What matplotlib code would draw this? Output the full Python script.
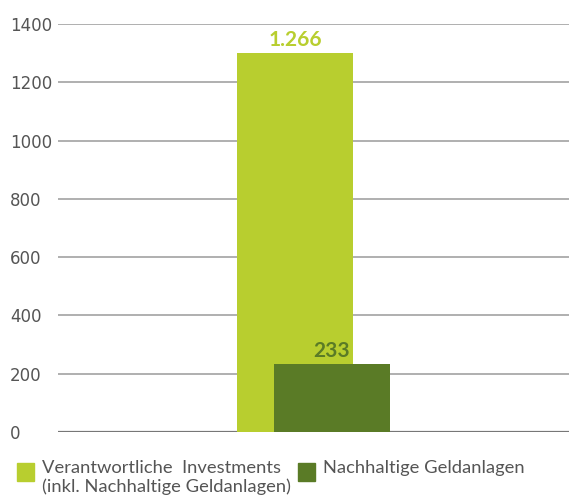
import matplotlib.pyplot as plt
from matplotlib.patches import Rectangle

series = ["Verantwortliche  Investments\n(inkl. Nachhaltige Geldanlagen)",
          "Nachhaltige Geldanlagen"]
values = [1300, 233]
value_labels = ["1.266", "233"]
colors = ["#b8ce2f", "#5a7b26"]
y_ticks = [0, 200, 400, 600, 800, 1000, 1200, 1400]


def main():
    fig = plt.figure(figsize=(5.69, 5.04), dpi=100)
    ax = fig.add_axes([58 / 569, 72 / 504, 511 / 569, 408 / 504])

    offsets = [-0.0724, 0.0724]
    for i in range(len(values)):
        bars = ax.bar(offsets[i], values[i], width=0.454, color=colors[i],
                      zorder=2 + i)
        ax.bar_label(bars, labels=[value_labels[i]], padding=2,
                     color=colors[i], fontsize=15, fontweight="bold",
                     family="Lato")

    ax.set_xlim(-1, 1)
    ax.set_ylim(0, 1400)
    ax.set_yticks(y_ticks)
    ax.set_yticklabels([str(t) for t in y_ticks], ha="left")
    ax.set_xticks([])
    ax.tick_params(axis="y", length=0, pad=34.5, labelsize=12,
                   labelcolor="#555555")
    for y in y_ticks:
        ax.axhline(y, color="#777777" if y == 0 else "#9a9a9a",
                   lw=1.6 if y == 0 else 1.1, zorder=1)
    for side in ["top", "right", "left", "bottom"]:
        ax.spines[side].set_visible(False)

    # legend below the chart
    legend_x = [17 / 569, 298 / 569]
    for i in range(len(series)):
        fig.patches.append(Rectangle((legend_x[i], 1 - 481 / 504),
                                     17 / 569, 18 / 504,
                                     transform=fig.transFigure,
                                     color=colors[i]))
        fig.text(legend_x[i] + 25 / 569, 1 - 460 / 504, series[i],
                 ha="left", va="top", fontsize=13.2, color="#555555",
                 family="Lato", linespacing=1.2)

    fig.savefig("out.png", dpi=100)


if __name__ == "__main__":
    main()
